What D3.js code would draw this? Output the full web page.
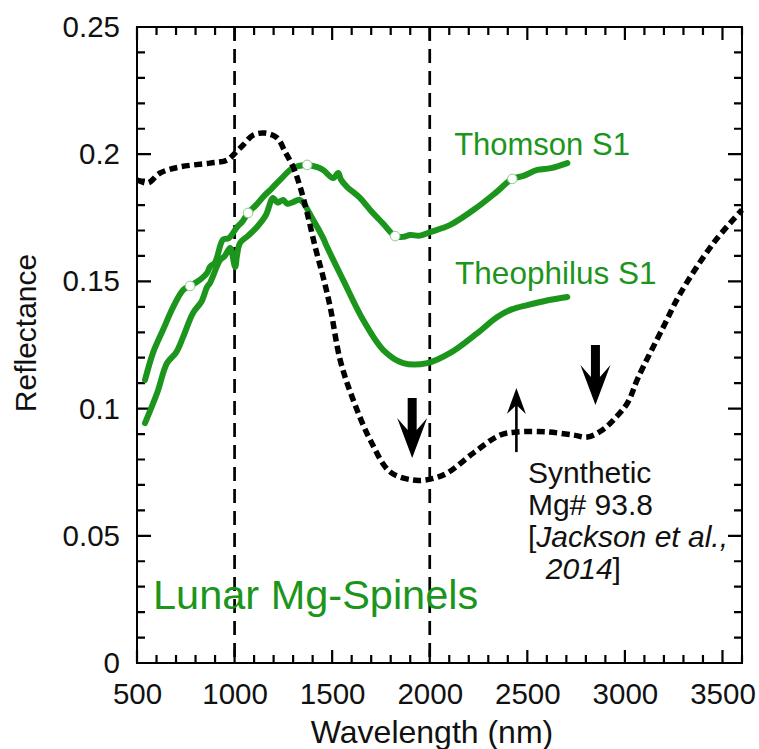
<!DOCTYPE html>
<html>
<head>
<meta charset="utf-8">
<script src="https://cdn.jsdelivr.net/npm/d3@7"></script>
<style>
  html, body { margin: 0; padding: 0; background: #fff; }
  svg { display: block; font-family: "Liberation Sans", Arial, Helvetica, sans-serif; }
</style>
</head>
<body>
<svg id="chart" width="759" height="749"></svg>
<script>
// Synthetic Mg-spinel spectrum (dotted black), wavelength in nm
const synthWl = [500, 556, 618, 720, 874, 962, 1003, 1044, 1095, 1156, 1218, 1259, 1300, 1336, 1372, 1413, 1454, 1490, 1541, 1608, 1695, 1797, 1915, 2003, 2090, 2223, 2361, 2449, 2603, 2736, 2808, 2885, 2941, 3013, 3069, 3197, 3285, 3454, 3600];
const synthRefl = [0.1899, 0.1887, 0.1926, 0.1950, 0.1965, 0.1977, 0.2005, 0.2036, 0.2075, 0.2083, 0.2064, 0.2009, 0.1950, 0.1871, 0.1769, 0.1635, 0.1517, 0.1399, 0.1191, 0.1034, 0.0877, 0.0751, 0.0719, 0.0723, 0.0747, 0.0825, 0.0896, 0.0908, 0.0908, 0.0896, 0.0888, 0.0916, 0.0955, 0.1022, 0.1124, 0.1321, 0.1454, 0.1651, 0.1781];

// Thomson S1
const thomsonWl = [541, 582, 633, 685, 736, 772, 820, 859, 874, 900, 941, 970, 1013, 1040, 1069, 1110, 1146, 1190, 1233, 1300, 1372, 1420, 1454, 1505, 1531, 1545, 1577, 1640, 1695, 1760, 1823, 1860, 1900, 1950, 2003, 2105, 2244, 2340, 2423, 2480, 2551, 2620, 2705];
const thomsonRefl = [0.1112, 0.1219, 0.1309, 0.1399, 0.1466, 0.1482, 0.1505, 0.1533, 0.1557, 0.1575, 0.1665, 0.1670, 0.1714, 0.1735, 0.1769, 0.1800, 0.1832, 0.1865, 0.1899, 0.1946, 0.1958, 0.1950, 0.1938, 0.1906, 0.1926, 0.1900, 0.1871, 0.1830, 0.1781, 0.1728, 0.1678, 0.1675, 0.1682, 0.1680, 0.1694, 0.1722, 0.1792, 0.1850, 0.1903, 0.1915, 0.1938, 0.1945, 0.1965];
const thomsonMarks = [772, 1069, 1372, 1823, 2423];

// Theophilus S1
const theoWl = [541, 603, 654, 700, 736, 787, 830, 859, 874, 926, 950, 977, 1003, 1012, 1028, 1070, 1115, 1160, 1197, 1220, 1249, 1270, 1300, 1336, 1403, 1454, 1474, 1556, 1659, 1762, 1864, 1987, 2105, 2244, 2346, 2420, 2500, 2600, 2705];
const theoRefl = [0.0943, 0.1061, 0.1179, 0.1220, 0.1281, 0.1376, 0.1420, 0.1478, 0.1494, 0.1584, 0.1600, 0.1631, 0.1557, 0.1600, 0.1651, 0.1680, 0.1714, 0.1760, 0.1828, 0.1810, 0.1820, 0.1805, 0.1812, 0.1820, 0.1741, 0.1670, 0.1635, 0.1506, 0.1348, 0.1230, 0.1179, 0.1179, 0.1219, 0.1297, 0.1360, 0.1390, 0.1407, 0.1425, 0.1439];

// Absorption band guide lines
const bandLines = [1000, 2000];

// Arrows: wavelength, start and end reflectance, weight
const arrowWl = [1910, 2849, 2444];
const arrowFrom = [0.1042, 0.1250, 0.0829];
const arrowTo = [0.0806, 0.1014, 0.1081];
const arrowHeavy = [true, true, false];

// Axis ticks
const xMajor = [500, 1000, 1500, 2000, 2500, 3000, 3500];
const xMinor = d3.range(500, 3601, 100);
const yMajor = [0, 0.05, 0.1, 0.15, 0.2, 0.25];
const yMajorLabels = ["0", "0.05", "0.1", "0.15", "0.2", "0.25"];
const yMinor = d3.range(0, 26).map(i => i / 100);

const green = "#1c951c";
const margin = { left: 137, top: 27, right: 17, bottom: 86 };
const W = 759, H = 749;
const iw = W - margin.left - margin.right;
const ih = H - margin.top - margin.bottom;

const svg = d3.select("#chart");
const g = svg.append("g").attr("transform", `translate(${margin.left},${margin.top})`);

const x = d3.scaleLinear().domain([500, 3600]).range([0, iw]);
const y = d3.scaleLinear().domain([0, 0.25]).range([ih, 0]);

// Tick labels from the axis generators
function styleAxis(sel) {
  sel.select(".domain").remove();
  sel.selectAll(".tick line").remove();
  sel.selectAll("text").attr("fill", "#111").attr("font-size", 29.5);
}
g.append("g").attr("transform", `translate(0,${ih})`)
  .call(d3.axisBottom(x).tickValues(xMajor).tickSize(0).tickPadding(20).tickFormat(d3.format("d")))
  .call(styleAxis);
g.append("g")
  .call(d3.axisLeft(y).tickValues(yMajor).tickSize(0).tickPadding(17).tickFormat((d, i) => yMajorLabels[i]))
  .call(styleAxis);

// Frame
g.append("rect").attr("x", 0).attr("y", 0).attr("width", iw).attr("height", ih)
  .attr("fill", "none").attr("stroke", "#000").attr("stroke-width", 2);

// Inward tick marks on all four sides, as one path
const xTicks = xMinor.map(v => ({ v, len: xMajor.includes(v) ? 13 : 8 }));
const yTicks = yMinor.map(v => ({ v, len: yMajor.some(m => Math.abs(m - v) < 1e-9) ? 14 : 8 }));
const tp = d3.path();
xTicks.forEach(d => {
  const px = x(d.v);
  tp.moveTo(px, ih); tp.lineTo(px, ih - d.len);
  tp.moveTo(px, 0); tp.lineTo(px, d.len);
});
yTicks.forEach(d => {
  const py = y(d.v);
  tp.moveTo(0, py); tp.lineTo(d.len, py);
  tp.moveTo(iw, py); tp.lineTo(iw - d.len, py);
});
g.append("path").attr("d", tp.toString())
  .attr("fill", "none").attr("stroke", "#000").attr("stroke-width", 2.2);

// Band centre guide lines
g.selectAll(".band").data(bandLines).enter().append("line")
  .attr("x1", d => x(d)).attr("x2", d => x(d))
  .attr("y1", 0).attr("y2", ih)
  .attr("stroke", "#000").attr("stroke-width", 2.7)
  .attr("stroke-dasharray", "14,8");

// Spectra
const lineGen = (xs, ys, curve) => d3.line()
  .x((d, i) => x(xs[i])).y((d, i) => y(ys[i])).curve(curve);

g.append("path").datum(theoRefl)
  .attr("d", lineGen(theoWl, theoRefl, d3.curveCatmullRom.alpha(0.5)))
  .attr("fill", "none").attr("stroke", green).attr("stroke-width", 6)
  .attr("stroke-linejoin", "round").attr("stroke-linecap", "round");

g.append("path").datum(thomsonRefl)
  .attr("d", lineGen(thomsonWl, thomsonRefl, d3.curveCatmullRom.alpha(0.5)))
  .attr("fill", "none").attr("stroke", green).attr("stroke-width", 6)
  .attr("stroke-linejoin", "round").attr("stroke-linecap", "round");

g.append("path").datum(synthRefl)
  .attr("d", lineGen(synthWl, synthRefl, d3.curveCatmullRom.alpha(0.5)))
  .attr("fill", "none").attr("stroke", "#000").attr("stroke-width", 5.5)
  .attr("stroke-dasharray", "8,4.5");

// Sample markers on the Thomson spectrum
const markIdx = thomsonWl.map((w, i) => i).filter(i => thomsonMarks.includes(thomsonWl[i]));
g.selectAll(".mark").data(markIdx).enter().append("circle")
  .attr("cx", i => x(thomsonWl[i])).attr("cy", i => y(thomsonRefl[i]))
  .attr("r", 4.8).attr("fill", "#fff").attr("stroke", "#8ccb8c").attr("stroke-width", 1);

// Arrows
arrowWl.forEach((w, i) => {
  const ax = x(w), y0 = y(arrowFrom[i]), y1 = y(arrowTo[i]);
  const dir = y1 > y0 ? 1 : -1;
  if (arrowHeavy[i]) {
    const headLen = 40, half = 15, sw = 4.5;
    const yb = y1 - dir * headLen;
    const p = d3.path();
    p.moveTo(ax - sw, y0);
    p.lineTo(ax + sw, y0);
    p.lineTo(ax + sw, yb + dir * 12);
    p.lineTo(ax + half, yb);
    p.lineTo(ax, y1);
    p.lineTo(ax - half, yb);
    p.lineTo(ax - sw, yb + dir * 12);
    p.closePath();
    g.append("path").attr("d", p.toString()).attr("fill", "#000");
  } else {
    const headLen = 26, half = 9.5;
    const yb = y1 - dir * headLen;
    g.append("line").attr("x1", ax).attr("x2", ax).attr("y1", y0).attr("y2", y1 - dir * 8)
      .attr("stroke", "#000").attr("stroke-width", 2.6);
    const p = d3.path();
    p.moveTo(ax, y1);
    p.lineTo(ax + half, yb);
    p.lineTo(ax, yb + dir * 9);
    p.lineTo(ax - half, yb);
    p.closePath();
    g.append("path").attr("d", p.toString()).attr("fill", "#000");
  }
});

// Curve labels
g.append("text").attr("x", x(2125)).attr("y", y(0.1995)).attr("fill", green)
  .attr("font-size", 31).text("Thomson S1");
g.append("text").attr("x", x(2130)).attr("y", y(0.1490)).attr("fill", green)
  .attr("font-size", 31.5).text("Theophilus S1");
g.append("text").attr("x", x(582)).attr("y", y(0.0212)).attr("fill", green)
  .attr("font-size", 41.5).text("Lunar Mg-Spinels");

const note = g.append("text").attr("fill", "#111").attr("font-size", 30);
const nx = x(2503);
note.append("tspan").attr("x", nx).attr("y", y(0.0707)).text("Synthetic");
note.append("tspan").attr("x", nx).attr("y", y(0.0581)).text("Mg# 93.8");
const l3 = note.append("tspan").attr("x", nx).attr("y", y(0.0455));
l3.append("tspan").text("[");
l3.append("tspan").attr("font-style", "italic").text("Jackson et al.,");
const l4 = note.append("tspan").attr("x", x(2595)).attr("y", y(0.0330));
l4.append("tspan").attr("font-style", "italic").text("2014");
l4.append("tspan").text("]");

// Axis titles
svg.append("text").attr("x", 432).attr("y", 743).attr("text-anchor", "middle")
  .attr("fill", "#111").attr("font-size", 32).text("Wavelength (nm)");
svg.append("text").attr("transform", "translate(36,333) rotate(-90)").attr("text-anchor", "middle")
  .attr("fill", "#111").attr("font-size", 30).text("Reflectance");
</script>
</body>
</html>
